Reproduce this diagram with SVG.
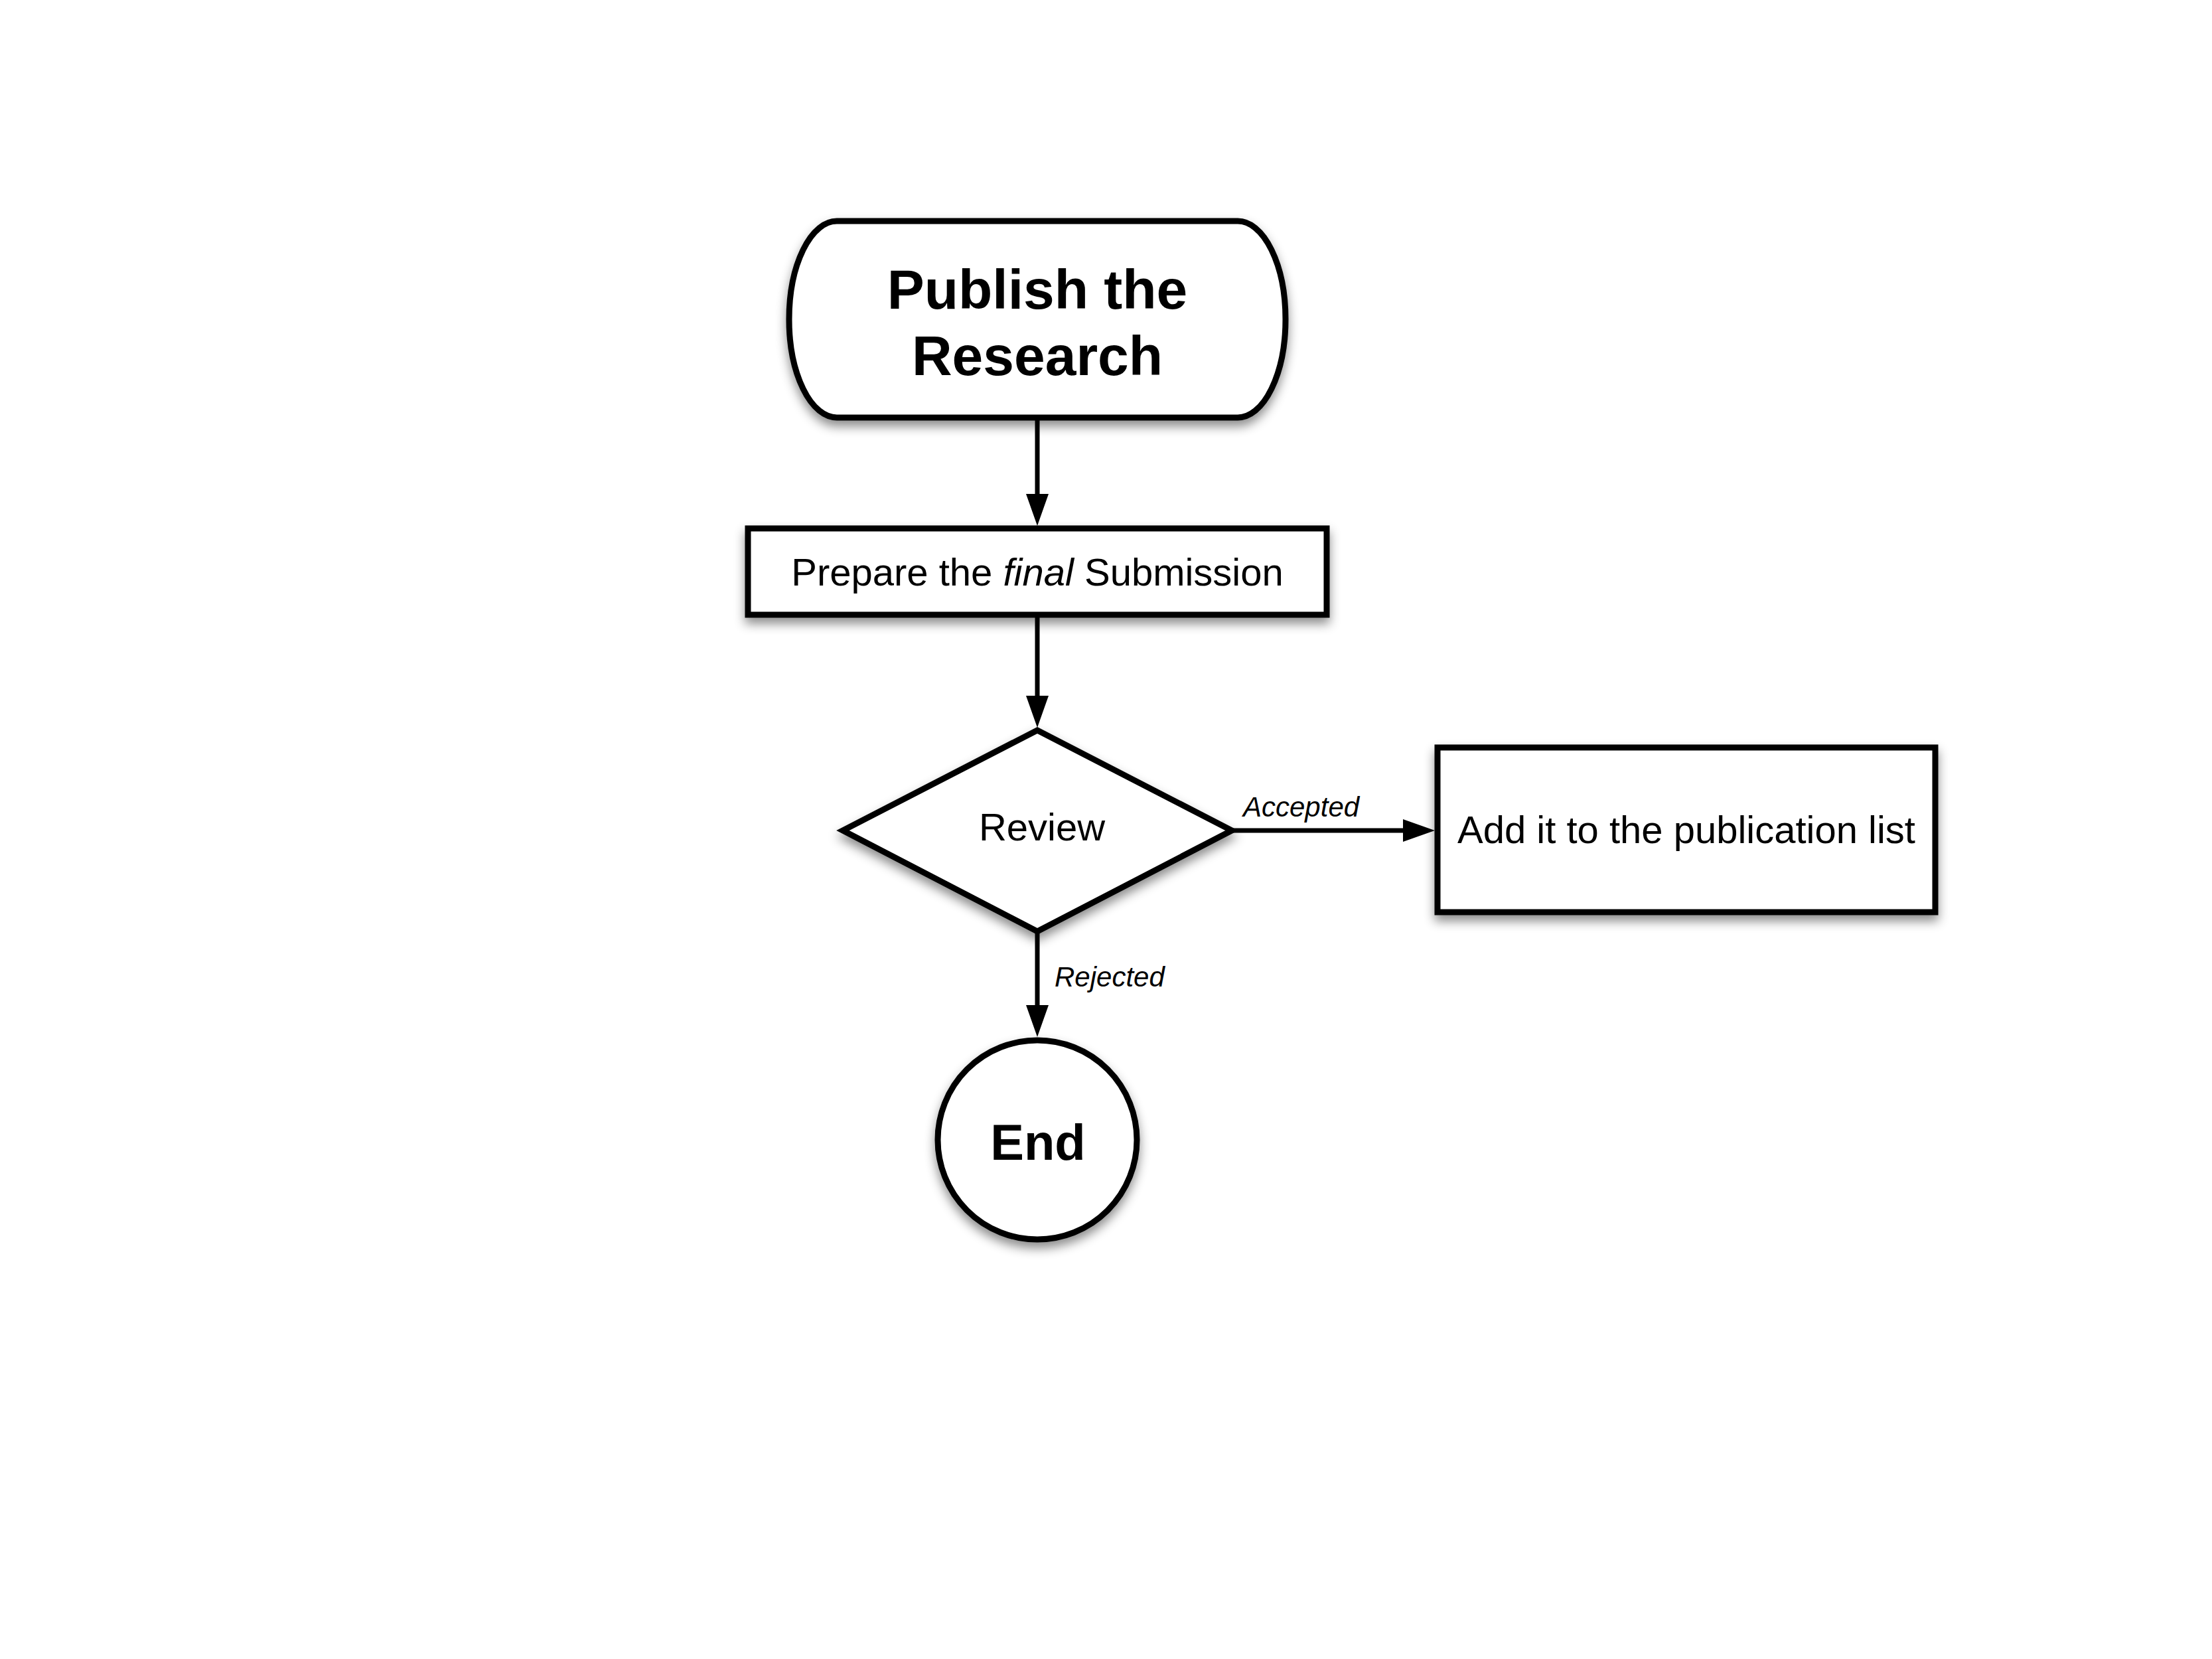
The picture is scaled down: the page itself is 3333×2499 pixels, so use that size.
<svg xmlns="http://www.w3.org/2000/svg" width="3333" height="2499" viewBox="0 0 3333 2499">
<defs>
<filter id="sh" x="-20%" y="-20%" width="140%" height="150%">
<feDropShadow dx="0" dy="9" stdDeviation="8" flood-color="#000" flood-opacity="0.45"/>
</filter>
<marker id="ah" viewBox="0 0 48 34" refX="0" refY="17" markerWidth="48" markerHeight="34" markerUnits="userSpaceOnUse" orient="auto">
<path d="M0,0 L48,17 L0,34 z" fill="#000"/>
</marker>
<style>
.node{fill:#fff;stroke:#000;stroke-width:9;filter:url(#sh)}
.edge{fill:none;stroke:#000;stroke-width:7;marker-end:url(#ah)}
text{font-family:"Liberation Sans",Arial,sans-serif;fill:#000}
.big{font-size:84px;font-weight:bold;text-anchor:middle}
.mid{font-size:58px;text-anchor:middle}
.lbl{font-size:42px;font-style:italic}
</style>
</defs>
<rect width="3333" height="2499" fill="#fff"/>
<g id="connectors">
<path class="edge" d="M1563,629 L1563,744"/>
<path class="edge" d="M1563,930 L1563,1048"/>
<path class="edge" d="M1856,1251 L2114,1251"/>
<path class="edge" d="M1563,1403 L1563,1514"/>
<text class="lbl" x="1873" y="1230">Accepted</text>
<text class="lbl" x="1589" y="1486">Rejected</text>
</g>
<g id="start">
<rect class="node" x="1189" y="333" width="748" height="296" rx="72" ry="148"/>
<text class="big" x="1563" y="465">Publish the</text>
<text class="big" x="1563" y="565">Research</text>
</g>
<g id="prepare">
<rect class="node" x="1127" y="796" width="872" height="130"/>
<text class="mid" x="1563" y="882">Prepare the <tspan font-style="italic">final</tspan> Submission</text>
</g>
<g id="review">
<polygon class="node" points="1270,1251 1563,1100 1856,1251 1563,1403"/>
<text class="mid" x="1570" y="1266">Review</text>
</g>
<g id="add">
<rect class="node" x="2166" y="1126" width="750" height="248"/>
<text class="mid" x="2541" y="1270">Add it to the publication list</text>
</g>
<g id="end">
<circle class="node" cx="1563" cy="1717" r="150"/>
<text class="big" x="1564" y="1747" style="font-size:76px">End</text>
</g>
</svg>
